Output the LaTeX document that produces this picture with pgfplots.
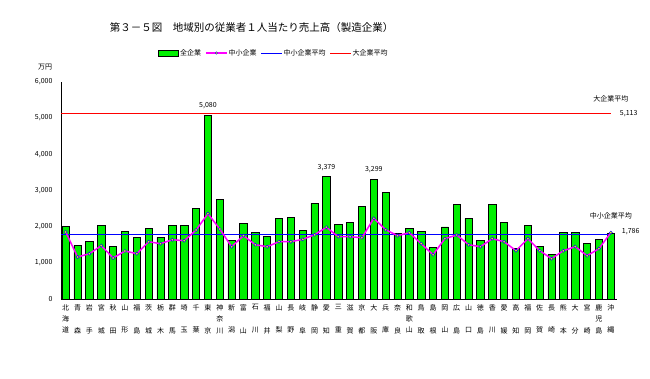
\documentclass[border=0pt]{standalone}
\usepackage{fontspec}
\setmainfont{Noto Sans CJK JP}
\usepackage{pgfplots}
\usepackage{pgfplotstable}
\pgfplotsset{compat=1.18}
\definecolor{barg}{RGB}{0,240,0}
\definecolor{mag}{RGB}{255,0,255}
\pgfplotstableread{
idx all sme
0 2007 1850
1 1482 1160
2 1593 1251
3 2035 1472
4 1455 1132
5 1869 1325
6 1703 1251
7 1952 1582
8 1703 1527
9 2035 1637
10 2035 1610
11 2504 1905
12 5080 2355
13 2761 1933
14 1620 1444
15 2090 1748
16 1841 1499
17 1731 1444
18 2228 1582
19 2256 1582
20 1897 1648
21 2642 1775
22 3379 1979
23 2062 1720
24 2117 1720
25 2559 1692
26 3299 2228
27 2946 1913
28 1814 1748
29 1960 1831
30 1869 1527
31 1427 1223
32 1988 1665
33 2614 1767
34 2228 1499
35 1620 1444
36 2614 1665
37 2117 1582
38 1400 1334
39 2035 1665
40 1455 1334
41 1234 1113
42 1841 1334
43 1841 1444
44 1538 1196
45 1648 1389
46 1814 1831
}\data
\begin{document}
\begin{tikzpicture}[x=1pt,y=1pt]
\useasboundingbox (0,0) rectangle (650,379);
\begin{axis}[
  at={(61pt,80pt)}, anchor=south west,
  scale only axis, width=555.7pt, height=217.3pt,
  xmin=-0.4, xmax=46.5, ymin=0, ymax=6000,
  axis x line*=bottom, axis y line*=left,
  axis line style={black, line width=0.8pt},
  clip=false,
  major tick length=0pt,
  ytick={0,1000,2000,3000,4000,5000,6000},
  scaled y ticks=false,
  /pgf/number format/.cd, 1000 sep={,}, assume math mode=true, /pgfplots/.cd,
  yticklabel style={font=\fontsize{7}{8}\selectfont, xshift=-5pt},
  xtick={0,...,46},
  xticklabels={{北\\海\\道},{青\\\mbox{}\\森},{岩\\\mbox{}\\手},{宮\\\mbox{}\\城},{秋\\\mbox{}\\田},{山\\\mbox{}\\形},{福\\\mbox{}\\島},{茨\\\mbox{}\\城},{栃\\\mbox{}\\木},{群\\\mbox{}\\馬},{埼\\\mbox{}\\玉},{千\\\mbox{}\\葉},{東\\\mbox{}\\京},{神\\奈\\川},{新\\\mbox{}\\潟},{富\\\mbox{}\\山},{石\\\mbox{}\\川},{福\\\mbox{}\\井},{山\\\mbox{}\\梨},{長\\\mbox{}\\野},{岐\\\mbox{}\\阜},{静\\\mbox{}\\岡},{愛\\\mbox{}\\知},{三\\\mbox{}\\重},{滋\\\mbox{}\\賀},{京\\\mbox{}\\都},{大\\\mbox{}\\阪},{兵\\\mbox{}\\庫},{奈\\\mbox{}\\良},{和\\歌\\山},{鳥\\\mbox{}\\取},{島\\\mbox{}\\根},{岡\\\mbox{}\\山},{広\\\mbox{}\\島},{山\\\mbox{}\\口},{徳\\\mbox{}\\島},{香\\\mbox{}\\川},{愛\\\mbox{}\\媛},{高\\\mbox{}\\知},{福\\\mbox{}\\岡},{佐\\\mbox{}\\賀},{長\\\mbox{}\\崎},{熊\\\mbox{}\\本},{大\\\mbox{}\\分},{宮\\\mbox{}\\崎},{鹿\\児\\島},{沖\\\mbox{}\\縄}},
  xticklabel style={font=\fontsize{7}{11.3}\selectfont, align=center, yshift=-2pt},
  legend style={draw=none, fill=none, at={(rel axis cs:0.3824,1.132)}, anchor=center,
    font=\fontsize{7}{8}\selectfont, legend columns=4,
    /tikz/every even column/.append style={column sep=3pt},
    nodes={inner sep=1pt}},
]
\addplot[ybar, bar width=7.3pt, fill=barg, draw=black, line width=0.7pt, forget plot] table[x=idx,y=all]{\data};
\addplot[blue, line width=1pt, forget plot] coordinates {(-0.4,1786) (46,1786)};
\addplot[red, line width=1pt, forget plot] coordinates {(-0.4,5113) (46,5113)};
\addplot[mag, line width=1.5pt, mark=*, mark size=1.6pt, mark options={fill=yellow, draw=blue, line width=0.5pt}, forget plot] table[x=idx,y=sme]{\data};
\addlegendimage{legend image code/.code={\draw[fill=barg,draw=black,line width=0.7pt] (0pt,-3pt) rectangle (20pt,3pt);}}
\addlegendentry{全企業}
\addlegendimage{legend image code/.code={\draw[mag,line width=1.5pt] (0pt,0pt) -- (21pt,0pt); \draw[mark=*, mark size=1.3pt, mark options={fill=yellow, draw=blue, line width=0.4pt}] plot coordinates {(10.5pt,0pt)};}}
\addlegendentry{中小企業}
\addlegendimage{legend image code/.code={\draw[blue,line width=1pt] (0pt,0pt) -- (21pt,0pt);}}
\addlegendentry{中小企業平均}
\addlegendimage{legend image code/.code={\draw[red,line width=1pt] (0pt,0pt) -- (21pt,0pt);}}
\addlegendentry{大企業平均}
\node[font=\fontsize{7}{8}\selectfont, anchor=south, inner sep=1pt] at (axis cs:12,5080) [yshift=5pt] {5,080};
\node[font=\fontsize{7}{8}\selectfont, anchor=south, inner sep=1pt] at (axis cs:22,3379) [yshift=5pt] {3,379};
\node[font=\fontsize{7}{8}\selectfont, anchor=south, inner sep=1pt] at (axis cs:26,3299) [yshift=5pt] {3,299};
\node[font=\fontsize{7}{8}\selectfont, anchor=west, inner sep=1pt] at (axis cs:46,5113) [xshift=8pt] {5,113};
\node[font=\fontsize{7}{8}\selectfont, anchor=south, inner sep=1pt] at (axis cs:46,5113) [yshift=11pt] {大企業平均};
\node[font=\fontsize{7}{8}\selectfont, anchor=west, inner sep=1pt] at (axis cs:46,1786) [xshift=10pt, yshift=3pt] {1,786};
\node[font=\fontsize{7}{8}\selectfont, anchor=south, inner sep=1pt] at (axis cs:46,1786) [yshift=14pt] {中小企業平均};
\end{axis}
\node[font=\fontsize{10.5}{12}\selectfont] at (251.7,351.7) {第３－５図　地域別の従業者１人当たり売上高（製造企業）};
\node[font=\fontsize{7}{8}\selectfont] at (45,311.7) {万円};
\end{tikzpicture}
\end{document}
